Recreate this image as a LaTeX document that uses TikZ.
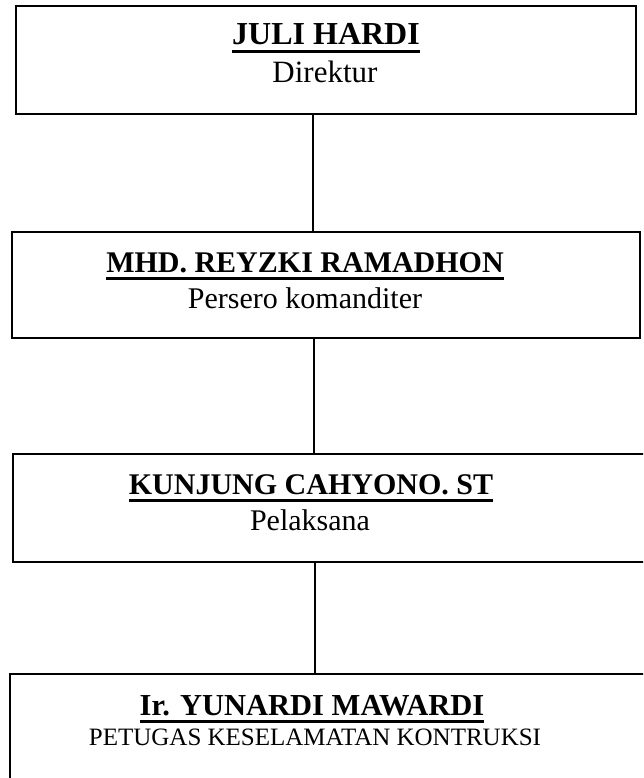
\documentclass[tikz,border=0pt]{standalone}
\usepackage{fontspec}
\setmainfont{Liberation Serif}
\usepackage{tikz}

\newcommand{\garisbawah}[1]{\setbox0\hbox{#1}\rlap{\rule[-8pt]{\wd0}{2.6pt}}\box0}

\begin{document}
\begin{tikzpicture}[x=1pt,y=-1pt,
    kotak/.style={draw,line width=2pt,inner sep=0pt},
    nama/.style={anchor=base,inner sep=0pt,font=\fontsize{30}{36}\selectfont\bfseries},
    jabatan/.style={anchor=base,inner sep=0pt,font=\fontsize{30}{36}\selectfont},
    garis/.style={line width=1.3pt}]
\useasboundingbox (0,0) rectangle (643,778);
\clip (0,0) rectangle (643,778);
% kotak
\node[kotak,minimum width=620pt,minimum height=108pt] (juli) at (326,60) {};
\node[kotak,minimum width=628.5pt,minimum height=106pt] (reyzki) at (325.75,285) {};
\node[kotak,minimum width=637pt,minimum height=108pt] (kunjung) at (331.5,508) {};
\node[kotak,minimum width=640.5pt,minimum height=126pt] (yunardi) at (329.75,737) {};
% teks
\node[nama,font=\fontsize{32}{38}\selectfont\bfseries] (juli-nama) at (326,45) {\garisbawah{JULI HARDI}};
\node[jabatan,font=\fontsize{31}{37}\selectfont] (juli-jab) at (325,83) {Direktur};
\node[nama] (reyzki-nama) at (305,272) {\garisbawah{MHD. REYZKI RAMADHON}};
\node[jabatan] (reyzki-jab) at (305,308) {Persero komanditer};
\node[nama] (kunjung-nama) at (311,494) {\garisbawah{KUNJUNG CAHYONO. ST}};
\node[jabatan] (kunjung-jab) at (310,530) {Pelaksana};
\node[nama,font=\fontsize{30.5}{36}\selectfont\bfseries] (yunardi-nama) at (312,715) {\garisbawah{Ir. YUNARDI MAWARDI}};
\node[jabatan,font=\fontsize{25}{30}\selectfont] (yunardi-jab) at (315,745) {PETUGAS KESELAMATAN KONTRUKSI};
% garis
\coordinate (g1) at (313,0);
\coordinate (g2) at (314,0);
\coordinate (g3) at (315,0);
\draw[garis] (juli.south -| g1) -- (reyzki.north -| g1);
\draw[garis] (reyzki.south -| g2) -- (kunjung.north -| g2);
\draw[garis] (kunjung.south -| g3) -- (yunardi.north -| g3);
\end{tikzpicture}
\end{document}
